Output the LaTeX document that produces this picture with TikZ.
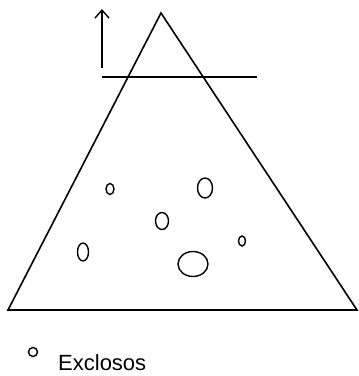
\documentclass[tikz,border=0pt]{standalone}
\usepackage{fontspec}
\setmainfont{Liberation Sans}
\usetikzlibrary{shapes.geometric,arrows.meta}

\begin{document}
\begin{tikzpicture}[x=1pt, y=-1pt]
  \useasboundingbox (0,0) rectangle (359,376);

  \tikzset{
    side line/.style={black, line width=1.6pt, line join=miter},
    cut line/.style={black, line width=1.4pt},
    hole/.style={ellipse, draw, line width=1.4pt, inner sep=0pt},
    legend text/.style={font=\fontsize{22}{24}\selectfont, anchor=base west, inner sep=0pt},
  }

  \newcommand{\drawhole}[4]{
    \node[hole, minimum width=#3, minimum height=#4] (#1) at #2 {};
  }

  % cone
  \coordinate (apex) at (161,13);
  \coordinate (baseL) at (8,310);
  \coordinate (baseR) at (357,310);
  \draw[side line] (apex) -- (baseR) -- (baseL) -- cycle;

  % cut and arrow
  \coordinate (cutL) at (102,77);
  \coordinate (cutR) at (257,77);
  \draw[cut line] (cutL) -- (cutR);
  \coordinate (arrowS) at (102,68);
  \coordinate (arrowE) at (102,9);
  \draw[line width=1.4pt, -{Straight Barb[length=8pt, width=14pt]}] (arrowS) -- (arrowE);

  % holes
  \drawhole{h1}{(110,189)}{8}{11}
  \drawhole{h2}{(205,188)}{15}{20}
  \drawhole{h3}{(162,221)}{13}{17}
  \drawhole{h4}{(242,241)}{7}{10}
  \drawhole{h5}{(83,252)}{11}{18}
  \drawhole{h6}{(193,264)}{30}{25}

  % legend
  \drawhole{key}{(33,352)}{9}{9}
  \node[legend text] (keytext) at (58,370) {Exclosos};
\end{tikzpicture}
\end{document}
